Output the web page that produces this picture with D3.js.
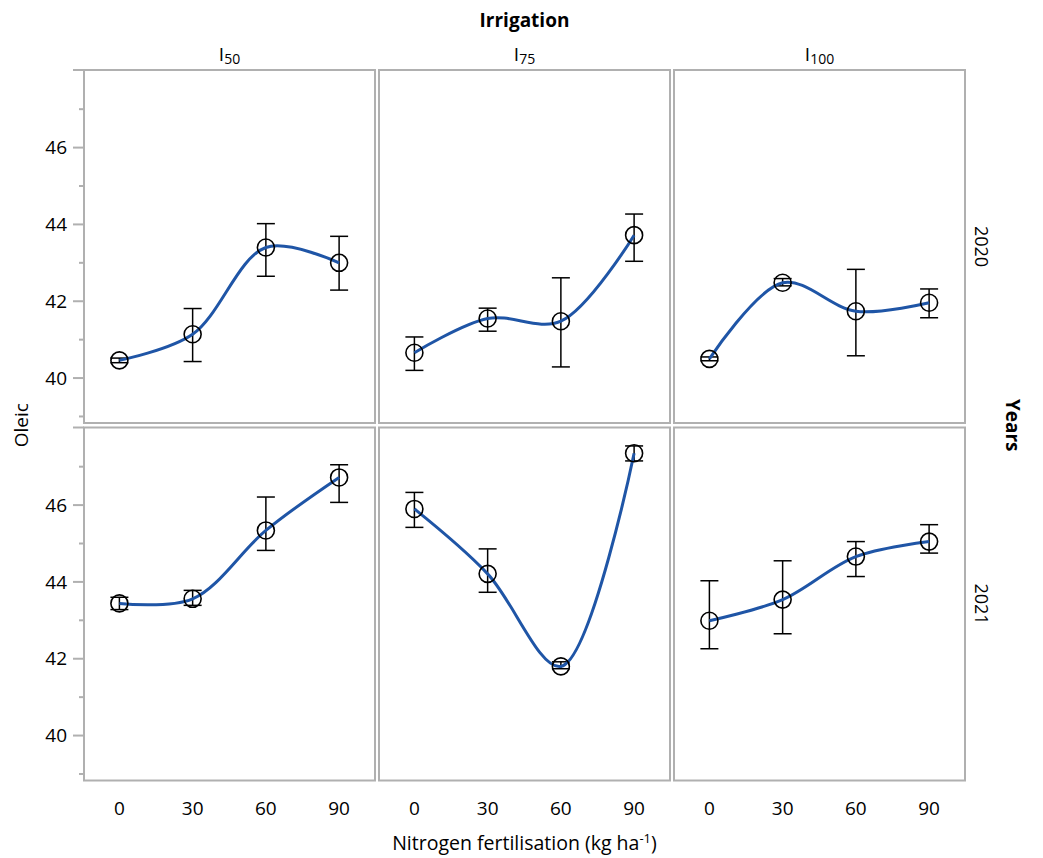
<!DOCTYPE html>
<html>
<head>
<meta charset="utf-8">
<script src="https://cdn.jsdelivr.net/npm/d3@7"></script>
<style>
  body { margin: 0; background: #fff; }
  text { font-family: "Open Sans", "Noto Sans", sans-serif; fill: #000; }
</style>
</head>
<body>
<div id="chart"></div>
<script>
// data
const nitrogen = [0, 30, 60, 90];
const irrigation = ["50", "75", "100"];
const years = ["2020", "2021"];
const yTicks = [40, 42, 44, 46];
const yMinor = [39, 41, 43, 45, 47];

// means, [year][irrigation][nitrogen]
const oleic2020 = [
    [40.46, 41.14, 43.40, 43.00],
    [40.66, 41.55, 41.48, 43.72],
    [40.50, 42.48, 41.74, 41.96]
];
const oleic2021 = [
    [43.44, 43.56, 45.34, 46.72],
    [45.90, 44.21, 41.80, 47.35],
    [42.99, 43.54, 44.66, 45.05]
];
// error bar ends (low, high)
const err2020 = [
    [[40.40, 40.52], [40.43, 41.81], [42.65, 44.02], [42.29, 43.69]],
    [[40.20, 41.07], [41.22, 41.82], [40.29, 42.61], [43.04, 44.27]],
    [[40.45, 40.55], [42.40, 42.59], [40.58, 42.83], [41.57, 42.32]]
];
const err2021 = [
    [[43.28, 43.60], [43.39, 43.78], [44.82, 46.21], [46.07, 47.05]],
    [[45.42, 46.33], [43.73, 44.86], [41.74, 41.92], [47.15, 47.54]],
    [[42.26, 44.03], [42.65, 44.55], [44.14, 45.05], [44.75, 45.49]]
];
const means = [oleic2020, oleic2021];
const errs = [err2020, err2021];

const W = 1043, H = 858;
const marginLeft = 84, marginTop = 70;
const panelW = 291, panelH = 353, gapX = 4, gapY = 4.5;
const frame = "#b0b0b0";

const svg = d3.select("#chart").append("svg")
    .attr("width", W)
    .attr("height", H);

const x = d3.scaleLinear().domain([-14.5, 104.7]).range([0, panelW]);
const y = d3.scaleLinear().domain([38.83, 48.02]).range([panelH, 0]);

const line = d3.line()
    .x(d => x(d.n))
    .y(d => y(d.v))
    .curve(d3.curveCatmullRom.alpha(0.5));

const midX = marginLeft + (3 * panelW + 2 * gapX) / 2;
const midY = marginTop + panelH + gapY / 2;

// titles
svg.append("text")
    .attr("x", midX)
    .attr("y", 27)
    .attr("text-anchor", "middle")
    .style("font-size", "19px")
    .style("font-weight", "bold")
    .text("Irrigation");

svg.append("text")
    .attr("transform", `translate(28, ${midY}) rotate(-90)`)
    .attr("text-anchor", "middle")
    .style("font-size", "19px")
    .text("Oleic");

svg.append("text")
    .attr("transform", `translate(1006, ${midY}) rotate(90)`)
    .attr("text-anchor", "middle")
    .style("font-size", "19px")
    .style("font-weight", "bold")
    .text("Years");

const xTitle = svg.append("text")
    .attr("x", midX)
    .attr("y", 850)
    .attr("text-anchor", "middle")
    .style("font-size", "19.5px");
xTitle.append("tspan").text("Nitrogen fertilisation (kg ha");
xTitle.append("tspan").attr("dy", -7).style("font-size", "13px").text("-1");
xTitle.append("tspan").attr("dy", 7).text(")");

years.forEach((yr, r) => {
    const py = marginTop + r * (panelH + gapY);

    // y axis for the row
    const ax = svg.append("g").attr("transform", `translate(${marginLeft}, ${py})`);
    ax.append("line")
        .attr("x1", -11).attr("x2", 0)
        .attr("y1", 0).attr("y2", 0)
        .attr("stroke", frame).attr("stroke-width", 2);
    ax.selectAll(".major")
        .data(yTicks)
        .enter()
        .append("line")
        .attr("x1", -11).attr("x2", 0)
        .attr("y1", d => y(d)).attr("y2", d => y(d))
        .attr("stroke", frame).attr("stroke-width", 2);
    ax.selectAll(".minor")
        .data(yMinor)
        .enter()
        .append("line")
        .attr("x1", -5).attr("x2", 0)
        .attr("y1", d => y(d)).attr("y2", d => y(d))
        .attr("stroke", frame).attr("stroke-width", 2);
    ax.selectAll(".lab")
        .data(yTicks)
        .enter()
        .append("text")
        .attr("x", -17)
        .attr("y", d => y(d))
        .attr("dy", "0.35em")
        .attr("text-anchor", "end")
        .style("font-size", "19px")
        .text(d => d);

    // row label
    svg.append("text")
        .attr("transform", `translate(975, ${py + panelH / 2}) rotate(90)`)
        .attr("text-anchor", "middle")
        .style("font-size", "18px")
        .text(yr);

    irrigation.forEach((irr, c) => {
        const px = marginLeft + c * (panelW + gapX);
        const g = svg.append("g").attr("transform", `translate(${px}, ${py})`);

        g.append("rect")
            .attr("width", panelW)
            .attr("height", panelH)
            .attr("fill", "none")
            .attr("stroke", frame)
            .attr("stroke-width", 2);

        const pts = nitrogen.map((n, i) => ({
            n: n,
            v: means[r][c][i],
            lo: errs[r][c][i][0],
            hi: errs[r][c][i][1]
        }));

        // error bars
        const eb = g.selectAll(".eb").data(pts).enter().append("g");
        eb.append("line")
            .attr("x1", d => x(d.n)).attr("x2", d => x(d.n))
            .attr("y1", d => y(d.lo)).attr("y2", d => y(d.hi))
            .attr("stroke", "#000").attr("stroke-width", 1.5);
        ["lo", "hi"].forEach(k => {
            eb.append("line")
                .attr("x1", d => x(d.n) - 9).attr("x2", d => x(d.n) + 9)
                .attr("y1", d => y(d[k])).attr("y2", d => y(d[k]))
                .attr("stroke", "#000").attr("stroke-width", 1.5);
        });

        g.append("path")
            .datum(pts)
            .attr("fill", "none")
            .attr("stroke", "#1f55a6")
            .attr("stroke-width", 3)
            .attr("d", line);

        g.selectAll(".pt")
            .data(pts)
            .enter()
            .append("circle")
            .attr("cx", d => x(d.n))
            .attr("cy", d => y(d.v))
            .attr("r", 8.5)
            .attr("fill", "none")
            .attr("stroke", "#000")
            .attr("stroke-width", 1.6);

        // column header
        if (r === 0) {
            const t = svg.append("text")
                .attr("x", px + panelW / 2)
                .attr("y", 61)
                .attr("text-anchor", "middle")
                .style("font-size", "19px");
            t.append("tspan").text("I");
            t.append("tspan").attr("dy", 3).style("font-size", "14px").text(irr);
        }

        // x tick labels
        if (r === years.length - 1) {
            g.selectAll(".xl")
                .data(nitrogen)
                .enter()
                .append("text")
                .attr("x", d => x(d))
                .attr("y", panelH + 34)
                .attr("text-anchor", "middle")
                .style("font-size", "19px")
                .text(d => d);
        }
    });
});
</script>
</body>
</html>
